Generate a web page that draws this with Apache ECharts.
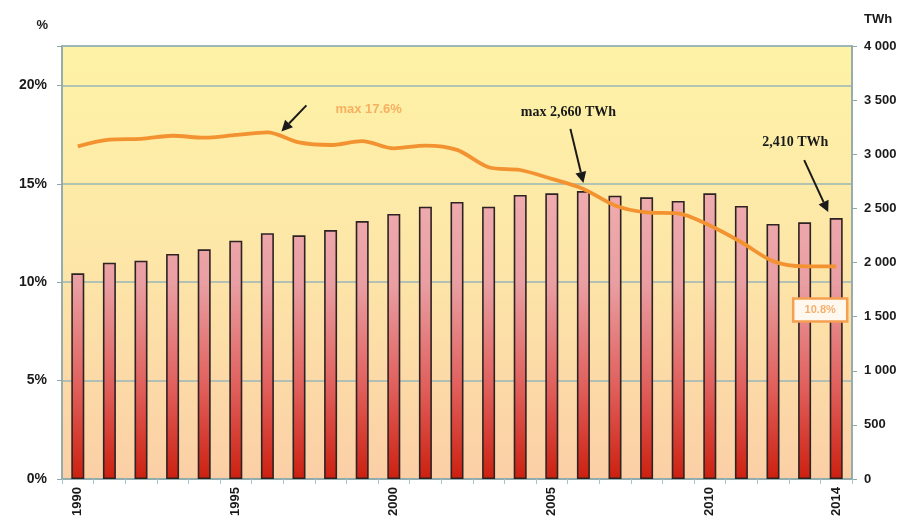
<!DOCTYPE html>
<html>
<head>
<meta charset="utf-8">
<script src="https://cdn.jsdelivr.net/npm/echarts@6/dist/echarts.min.js"></script>
<style>
html,body{margin:0;padding:0;background:#fff;}
#c{width:911px;height:527px;}
</style>
</head>
<body>
<div id="c"></div>
<script>
const years = ['1990','1991','1992','1993','1994','1995','1996','1997','1998','1999','2000','2001','2002','2003','2004','2005','2006','2007','2008','2009','2010','2011','2012','2013','2014'];
const consumptionTWh = [1900,1998,2017,2079,2122,2202,2270,2251,2300,2383,2448,2516,2559,2516,2624,2639,2660,2617,2602,2568,2639,2522,2356,2371,2410];
const sharePct = [16.9,17.24,17.28,17.44,17.34,17.48,17.61,17.1,16.97,17.17,16.8,16.94,16.72,15.84,15.7,15.25,14.74,13.9,13.55,13.5,12.88,12.03,11.07,10.8,10.8];
const shownYearLabels = ['1990','1995','2000','2005','2010','2014'];
const leftTicks = [0,5,10,15,20];
const rightMax = 4000;
const annMaxShare = 'max 17.6%';
const annMaxCons = 'max 2,660 TWh';
const annLastCons = '2,410 TWh';
const annLastShare = '10.8%';

const chart = echarts.init(document.getElementById('c'));
const axisCol = '#8fa9ab';
const font = 'Liberation Sans, Arial, sans-serif';

const option = {
  animation: false,
  backgroundColor: '#ffffff',
  grid: {
    left: 62, right: 59, top: 46, bottom: 48,
    show: true,
    borderColor: axisCol, borderWidth: 1.5,
    backgroundColor: new echarts.graphic.LinearGradient(0,0,0,1,[
      {offset:0,color:'#fef3a6'},
      {offset:0.5,color:'#fde6a8'},
      {offset:1,color:'#fbcfa6'}
    ])
  },
  xAxis: {
    type: 'category',
    data: years,
    boundaryGap: true,
    axisLine: {lineStyle:{color:axisCol,width:1.5}},
    axisTick: {show:true, interval:0, length:5, lineStyle:{color:'#a9c2d0'}},
    axisLabel: {
      interval: (i, v) => shownYearLabels.indexOf(v) >= 0,
      rotate: 90, fontFamily: font, fontWeight: 'bold', fontSize: 13, color: '#1a1a1a', margin: 8
    }
  },
  yAxis: [
    {
      type: 'value', min: 0, max: 22, interval: 5, position: 'left',
      name: '%', nameLocation: 'end', nameGap: 14,
      nameTextStyle: {fontFamily: font, fontWeight:'bold', fontSize:13, color:'#1a1a1a', align:'right', padding:[0,14,0,0]},
      axisLine: {show:true, lineStyle:{color:axisCol,width:1.5}},
      axisTick: {show:true, length:5, lineStyle:{color:axisCol}},
      axisLabel: {
        fontFamily: font, fontWeight:'bold', fontSize:14, color:'#1a1a1a', margin: 15,
        formatter: v => leftTicks.indexOf(v) >= 0 ? v + '%' : ''
      },
      splitLine: {show:true, lineStyle:{color:'#98b6b8', width:1.5}}
    },
    {
      type: 'value', min: 0, max: rightMax, interval: 500, position: 'right',
      name: 'TWh', nameLocation: 'end', nameGap: 20,
      nameTextStyle: {fontFamily: font, fontWeight:'bold', fontSize:13, color:'#1a1a1a', align:'left', padding:[0,0,0,12]},
      axisLine: {show:true, lineStyle:{color:axisCol,width:1.5}},
      axisTick: {show:true, length:5, lineStyle:{color:axisCol}},
      axisLabel: {
        fontFamily: font, fontWeight:'bold', fontSize:13, color:'#1a1a1a', margin: 12,
        formatter: v => v >= 1000 ? Math.floor(v/1000) + ' ' + String(v%1000).padStart(3,'0') : String(v)
      },
      splitLine: {show:false}
    }
  ],
  series: [
    {
      type: 'bar', yAxisIndex: 1, data: consumptionTWh, barWidth: 13,
      itemStyle: {
        color: new echarts.graphic.LinearGradient(0,180,0,479,[
          {offset:0,color:'#f0aeb0'},
          {offset:0.35,color:'#e99ea2'},
          {offset:0.7,color:'#e05e5a'},
          {offset:1,color:'#cc2010'}
        ], true),
        borderColor: '#2e2323', borderWidth: 1.6
      },
      z: 2
    },
    {
      type: 'line', yAxisIndex: 0, data: sharePct, symbol: 'none', smooth: 0.3,
      lineStyle: {color:'#f39230', width:3.8},
      z: 3
    }
  ]
};
chart.setOption(option);

function arrow(x1,y1,x2,y2){
  const ang = Math.atan2(y2-y1,x2-x1);
  const hl = 11, hw = 5.5;
  const bx = x2 - hl*Math.cos(ang), by = y2 - hl*Math.sin(ang);
  return [
    {type:'line', shape:{x1:x1,y1:y1,x2:bx,y2:by}, style:{stroke:'#1a1a1a', lineWidth:2}, z:10},
    {type:'polygon', shape:{points:[[x2,y2],[bx - hw*Math.sin(ang), by + hw*Math.cos(ang)],[bx + hw*Math.sin(ang), by - hw*Math.cos(ang)]]}, style:{fill:'#1a1a1a'}, z:10}
  ];
}

const pMaxShare = chart.convertToPixel({seriesIndex:1}, ['1996', sharePct[6]]);
const pMaxCons = chart.convertToPixel({seriesIndex:1}, ['2006', sharePct[16]]);
const pLastBar = chart.convertToPixel({seriesIndex:0}, ['2014', consumptionTWh[24]]);
const pLastLine = chart.convertToPixel({seriesIndex:1}, ['2014', sharePct[24]]);

let g = [];
g = g.concat(arrow(pMaxShare[0]+39, pMaxShare[1]-27, pMaxShare[0]+14, pMaxShare[1]-1));
g.push({type:'text', x:pMaxShare[0]+68, y:pMaxShare[1]-23, style:{text:annMaxShare, fill:'#f5a050', font:'bold 13px Liberation Sans, Arial', textVerticalAlign:'middle', opacity:0.8}, z:10});
g = g.concat(arrow(pMaxCons[0]-13, pMaxCons[1]-60, pMaxCons[0], pMaxCons[1]-6));
g.push({type:'text', x:pMaxCons[0]-15, y:pMaxCons[1]-76, style:{text:annMaxCons, fill:'#1a1a1a', font:'bold 14px Liberation Serif, DejaVu Serif, serif', textAlign:'center', textVerticalAlign:'middle'}, z:10});
g = g.concat(arrow(pLastBar[0]-32, pLastBar[1]-58, pLastBar[0]-8, pLastBar[1]-6));
g.push({type:'text', x:pLastBar[0]-41, y:pLastBar[1]-76, style:{text:annLastCons, fill:'#1a1a1a', font:'bold 14px Liberation Serif, DejaVu Serif, serif', textAlign:'center', textVerticalAlign:'middle'}, z:10});
g.push({type:'rect', shape:{x:pLastLine[0]-43, y:pLastLine[1]+32, width:54, height:23}, style:{fill:'#fff8ee', stroke:'#f5a050', lineWidth:2.5}, z:10});
g.push({type:'text', x:pLastLine[0]-16, y:pLastLine[1]+43.5, style:{text:annLastShare, fill:'#f5b070', font:'bold 11px Liberation Sans, Arial', textAlign:'center', textVerticalAlign:'middle'}, z:11});
chart.setOption({graphic: g});
</script>
</body>
</html>
